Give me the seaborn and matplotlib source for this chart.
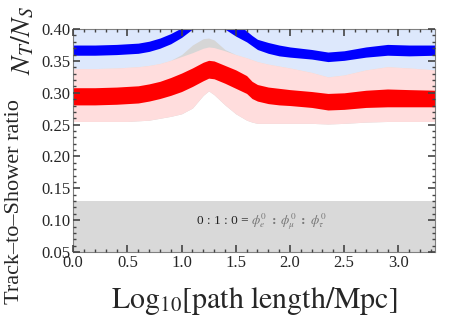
import numpy as np
import pandas as pd
import matplotlib
matplotlib.use("Agg")
import matplotlib.pyplot as plt
import seaborn as sns

# ---- data ----
x = [0.0, 0.2, 0.4, 0.5, 0.6, 0.7, 0.8, 0.9, 1.0, 1.1, 1.2, 1.25, 1.3, 1.4, 1.5, 1.6, 1.65, 1.7,
     1.8, 1.9, 2.0, 2.2, 2.35, 2.5, 2.7, 2.9, 3.1, 3.34]
blue_hi = [0.375, 0.375, 0.376, 0.377, 0.378, 0.381, 0.386, 0.393, 0.402, 0.420, 0.440, 0.450, 0.450, 0.430,
           0.410, 0.397, 0.390, 0.384, 0.379, 0.375, 0.372, 0.368, 0.364, 0.366, 0.372, 0.376, 0.375, 0.375]
blue_lo = [0.359, 0.359, 0.360, 0.361, 0.362, 0.365, 0.370, 0.377, 0.387, 0.400, 0.420, 0.430, 0.430, 0.400,
           0.389, 0.380, 0.374, 0.368, 0.362, 0.358, 0.356, 0.353, 0.349, 0.351, 0.356, 0.359, 0.358, 0.359]
red_hi = [0.308, 0.308, 0.309, 0.310, 0.311, 0.314, 0.318, 0.324, 0.331, 0.339, 0.348, 0.351, 0.350, 0.343,
          0.336, 0.327, 0.318, 0.313, 0.309, 0.307, 0.305, 0.302, 0.299, 0.300, 0.304, 0.306, 0.305, 0.304]
red_lo = [0.281, 0.281, 0.282, 0.283, 0.284, 0.287, 0.291, 0.296, 0.302, 0.310, 0.319, 0.323, 0.322, 0.315,
          0.307, 0.299, 0.291, 0.287, 0.283, 0.281, 0.280, 0.277, 0.273, 0.274, 0.277, 0.278, 0.278, 0.278]
pink_hi = [0.338, 0.338, 0.339, 0.340, 0.341, 0.343, 0.346, 0.351, 0.357, 0.363, 0.370, 0.372, 0.371, 0.366,
           0.360, 0.355, 0.352, 0.349, 0.345, 0.342, 0.339, 0.332, 0.325, 0.328, 0.336, 0.341, 0.339, 0.336]
pink_lo = [0.255, 0.255, 0.255, 0.255, 0.256, 0.257, 0.260, 0.263, 0.267, 0.276, 0.296, 0.303, 0.297, 0.281,
           0.267, 0.257, 0.254, 0.252, 0.252, 0.252, 0.252, 0.252, 0.251, 0.252, 0.254, 0.255, 0.255, 0.255]
gray_hi = [0.338, 0.338, 0.339, 0.340, 0.341, 0.343, 0.346, 0.351, 0.360, 0.375, 0.385, 0.386, 0.383, 0.368,
           0.360, 0.355, 0.352, 0.349, 0.345, 0.342, 0.339, 0.332, 0.325, 0.328, 0.336, 0.341, 0.339, 0.336]
sky_top = 0.45
flavor_band = (0.0, 0.13)
xticks = [0.0, 0.5, 1.0, 1.5, 2.0, 2.5, 3.0]
yticks = [0.05, 0.10, 0.15, 0.20, 0.25, 0.30, 0.35, 0.40]

df = pd.DataFrame({"x": x, "blue": (np.array(blue_hi) + np.array(blue_lo)) / 2,
                   "red": (np.array(red_hi) + np.array(red_lo)) / 2})

sns.set_style("ticks")
plt.rcParams["font.family"] = ["Liberation Serif", "DejaVu Serif"]
plt.rcParams["mathtext.fontset"] = "stix"
plt.rcParams["axes.axisbelow"] = False

fig = plt.figure(figsize=(4.63, 3.2), dpi=100)
ax = fig.add_axes([0.158, 0.2125, 0.782, 0.6965])

frame = "#808080"
ax.fill_between(x, pink_hi, sky_top, color="#DDE8FC", lw=0, zorder=0.5)
ax.fill_between(x, pink_lo, gray_hi, color="#D6D6D6", lw=0, zorder=0.6)
ax.fill_between(x, pink_lo, pink_hi, color="#FFDDDD", lw=0, zorder=0.7)
ax.fill_between(x, blue_lo, blue_hi, color="#0000FF", lw=0, zorder=0.8)
ax.fill_between(x, red_lo, red_hi, color="#FF0000", lw=0, zorder=0.8)
sns.lineplot(data=df, x="x", y="blue", ax=ax, color="#0000FF", lw=1, zorder=0.9)
sns.lineplot(data=df, x="x", y="red", ax=ax, color="#FF0000", lw=1, zorder=0.9)
ax.axhspan(flavor_band[0], flavor_band[1], color="#D9D9D9", lw=0, zorder=0.5)

ax.text(1.615, 0.098, "0 : 1 : 0 =", ha="right", va="center", fontsize=9.5, color="#222222")
ax.text(1.64, 0.098, r"$\phi_e^0\ \mathbf{:}\ \phi_\mu^0\ \mathbf{:}\ \phi_\tau^0$", ha="left", va="center",
        fontsize=9.5, color="#777777")

ax.set_xlim(0, 3.34)
ax.set_ylim(0.05, 0.40)
ax.set_xticks(xticks)
ax.set_xticklabels([f"{v:.1f}" for v in xticks])
ax.set_yticks(yticks)
ax.set_yticklabels([f"{v:.2f}" for v in yticks])
ax.xaxis.set_minor_locator(matplotlib.ticker.MultipleLocator(0.1))
ax.yaxis.set_minor_locator(matplotlib.ticker.MultipleLocator(0.01))
ax.tick_params(which="major", direction="in", top=True, right=True, bottom=True, left=True,
               color="#444444", width=1.2, length=5, labelsize=12, pad=2)
ax.tick_params(which="minor", direction="in", top=True, right=True, bottom=True, left=True,
               color="#444444", width=1.0, length=2.5)
ax.xaxis.set_zorder(5)
ax.yaxis.set_zorder(5)
for s in ax.spines.values():
    s.set_color(frame)
    s.set_linewidth(0.8)
    s.set_zorder(5)
ax.set_xlabel(r"$\mathrm{Log}_{10}[\mathrm{path\ length/Mpc}]$", fontsize=21.5, labelpad=10)
ax.set_ylabel("")
fig.text(0.032, 0.369, "Track\u2013to\u2013Shower ratio", rotation=90, ha="center", va="center", fontsize=16)
fig.text(0.05, 0.875, r"$N_T/N_S$", rotation=90, ha="center", va="center", fontsize=20)

fig.savefig("out.png", dpi=100)
